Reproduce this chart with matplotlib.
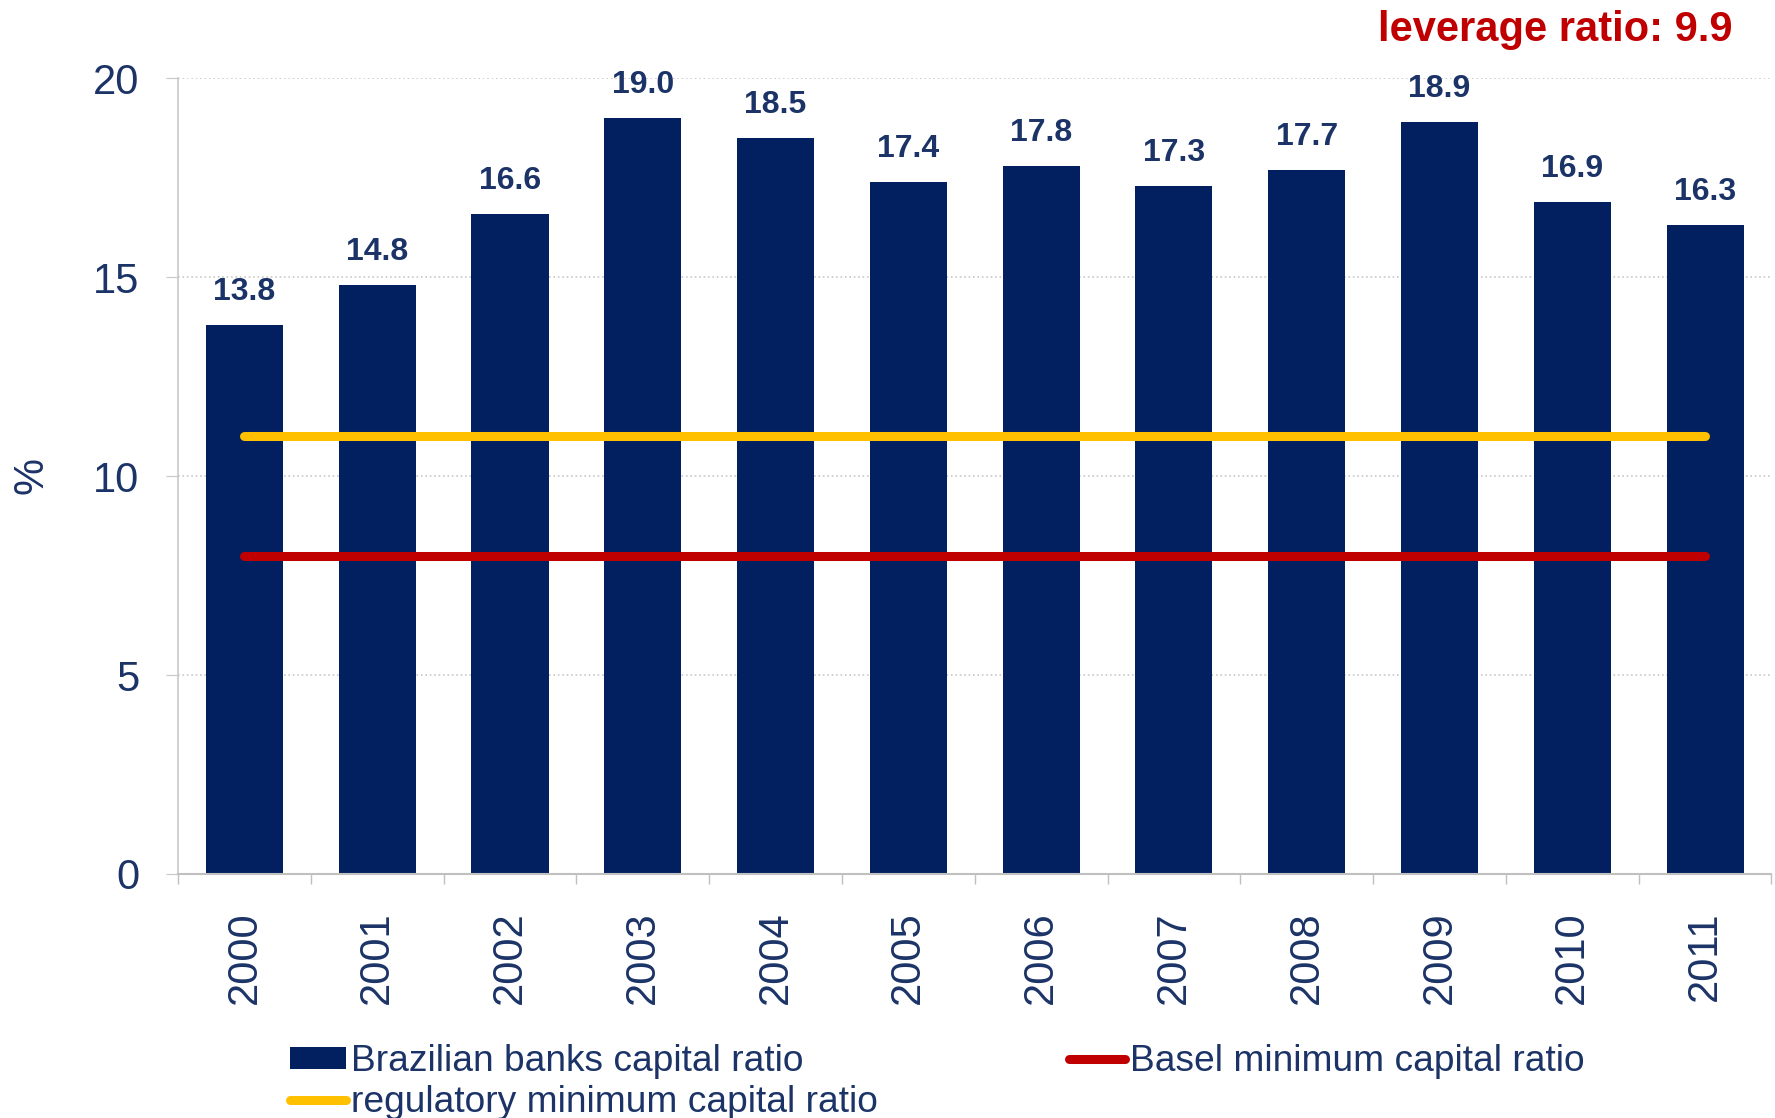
import matplotlib.pyplot as plt
import numpy as np

years = ['2000', '2001', '2002', '2003', '2004', '2005',
         '2006', '2007', '2008', '2009', '2010', '2011']
capital_ratio = [13.8, 14.8, 16.6, 19.0, 18.5, 17.4, 17.8, 17.3, 17.7, 18.9, 16.9, 16.3]
regulatory_min = [11] * len(years)
basel_min = [8] * len(years)
leverage_ratio = 9.9

navy = '#022060'
text_col = '#1b3366'
yellow = '#FFC000'
red = '#C00000'

plt.rcParams['font.family'] = ['Liberation Sans', 'DejaVu Sans']

fig = plt.figure(figsize=(17.75, 11.18), dpi=100)
ax = fig.add_axes([0.1003, 0.2183, 0.8977, 0.7117])

x = np.arange(len(years))
bars = ax.bar(x, capital_ratio, width=0.58, color=navy, zorder=2,
              label='Brazilian banks capital ratio')
reg_line, = ax.plot(x, regulatory_min, color=yellow, lw=6.5, zorder=3,
                    solid_capstyle='round', label='regulatory minimum capital ratio')
basel_line, = ax.plot(x, basel_min, color=red, lw=6.5, zorder=3,
                      solid_capstyle='round', label='Basel minimum capital ratio')

# value labels above the bars
for xi, v in zip(x, capital_ratio):
    ax.annotate(f'{v:.1f}', (xi, v), xytext=(0, 18), textcoords='offset points',
                ha='center', va='baseline', fontsize=23, fontweight='bold',
                color=text_col)

ax.set_xlim(-0.5, len(years) - 0.5)
ax.set_ylim(0, 20)
ax.set_yticks([0, 5, 10, 15, 20])
ax.grid(axis='y', linestyle=':', color='#c8c8c8', lw=1.2, zorder=0)

ax.set_xticks(x)
ax.set_xticklabels(years, rotation=90, fontsize=30, color=text_col)
ax.set_xticks(np.arange(-0.5, len(years)), minor=True)
ax.tick_params(axis='x', which='major', length=0, pad=27)
ax.tick_params(axis='x', which='minor', length=7, color='#c0c0c0', width=1)
ax.tick_params(axis='y', length=9, color='#c8c8c8', labelsize=30,
               labelcolor=text_col, pad=19)

for s in ['top', 'right']:
    ax.spines[s].set_visible(False)
ax.spines['left'].set_color('#c8c8c8')
ax.spines['bottom'].set_color('#c0c0c0')
ax.spines['left'].set_linewidth(1.2)
ax.spines['bottom'].set_linewidth(1.5)

fig.text(32 / 1775, 1 - 475 / 1118, '%', rotation=90, fontsize=30,
         color=text_col, ha='center', va='center')

fig.text(1732 / 1775, 1 - 30 / 1118, f'leverage ratio: {leverage_ratio}',
         fontsize=30, fontweight='bold', color=red, ha='right', va='center')

leg_kw = dict(frameon=False, fontsize=26.7, handlelength=1.5, handleheight=0.55,
              handletextpad=0.15, labelspacing=0.17, borderpad=0, borderaxespad=0,
              labelcolor=text_col)
fig.legend([bars, reg_line], ['Brazilian banks capital ratio',
                              'regulatory minimum capital ratio'],
           loc='upper left', bbox_to_anchor=(290 / 1775, 1 - 1044 / 1118), **leg_kw)
fig.legend([basel_line], ['Basel minimum capital ratio'],
           loc='upper left', bbox_to_anchor=(1069 / 1775, 1 - 1044 / 1118), **leg_kw)

fig.savefig('out.png', dpi=100)
